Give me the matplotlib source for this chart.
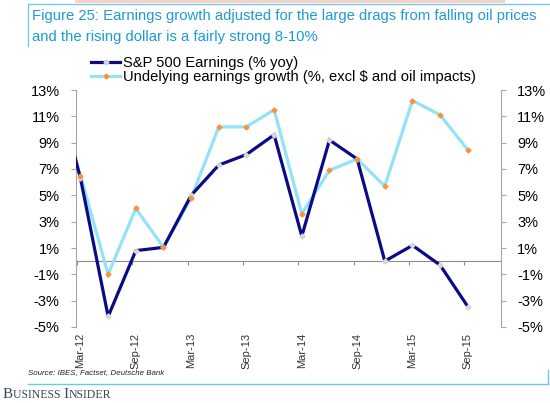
import numpy as np
import matplotlib
matplotlib.use("Agg")
import matplotlib.pyplot as plt
from matplotlib.lines import Line2D
from matplotlib.patches import Rectangle

plt.rcParams['font.family'] = ['Liberation Sans', 'DejaVu Sans']

# data (quarterly, % yoy); first value (Dec-11) falls just outside the plot
quarters = ["Dec-11", "Mar-12", "Jun-12", "Sep-12", "Dec-12", "Mar-13", "Jun-13", "Sep-13", "Dec-13",
            "Mar-14", "Jun-14", "Sep-14", "Dec-14", "Mar-15", "Jun-15", "Sep-15"]
sp500 = [14.4, 6.3, -4.2, 0.8, 1.05, 5.0, 7.3, 8.1, 9.6, 1.9, 9.2, 7.76, 0.0, 1.2, -0.3, -3.45]
underlying = [11.8, 6.5, -1.0, 4.0, 1.05, 4.8, 10.2, 10.2, 11.5, 3.6, 6.9, 7.76, 5.7, 12.2, 11.1, 8.45]
label_sp = "S&P 500 Earnings (% yoy)"
label_und = "Undelying earnings growth (%, excl $ and oil impacts)"
yticks = list(range(-5, 14, 2))

navy = "#0b0b86"
light = "#93e2f8"
orange = "#f7933a"
grey = "#a6a6a6"
blue_txt = "#1e9ad8"
frame_blue = "#6cc6ee"

x = np.arange(len(quarters)) - 1  # Mar-12 at 0

fig = plt.figure(figsize=(5.5, 4.03), dpi=100)
ax = fig.add_axes([75.5/550, 1-327/403, (501-75.5)/550, (327-90)/403])

ax.plot(x, underlying, color=light, lw=2.3, zorder=2, solid_joinstyle='miter')
ax.plot(x, sp500, color=navy, lw=2.3, zorder=3, marker='D', ms=2.6,
        mfc="#d6d6d6", mec="#d6d6d6", solid_joinstyle='miter')
ax.plot(x, underlying, ls='none', marker='D', ms=2.5, mfc=orange, mec=orange, zorder=4)

ax.set_xlim(-0.18, 15.2)
ax.set_ylim(-5, 13)

# zero line with category ticks
ax.axhline(0, color="#8c8c8c", lw=0.8, zorder=1)
tick_idx = [i for i in range(1, len(quarters)) if quarters[i][:3] in ("Mar", "Sep")]
ax.vlines(x[tick_idx] - 0.12, -0.3, 0, color="#8c8c8c", lw=0.8, zorder=1)

ax.set_xticks(x[tick_idx])
ax.set_xticklabels([quarters[i] for i in tick_idx], rotation=90, fontsize=8,
                   family=['Liberation Sans Narrow', 'Liberation Sans'], color="#333333")
ax.tick_params(axis='x', length=0, pad=4)

for s in ('top', 'bottom', 'right'):
    ax.spines[s].set_visible(False)
ax.spines['left'].set_color(grey)
ax.set_yticks(yticks)
ax.set_yticklabels([f"{v}%" for v in yticks], fontsize=10.5)
ax.tick_params(axis='y', direction='out', length=3.5, width=0.8, color=grey, pad=8)

ax2 = ax.twinx()
ax2.set_ylim(-5, 13)
for s in ('top', 'bottom', 'left'):
    ax2.spines[s].set_visible(False)
ax2.spines['right'].set_color(grey)
ax2.set_yticks(yticks)
ax2.set_yticklabels([f"{v}%" for v in yticks], fontsize=10.5)
ax2.tick_params(axis='y', direction='out', length=3.5, width=0.8, color=grey, pad=8)

# legend
handles = [Line2D([], [], color=navy, lw=2.3, marker='D', ms=2.6, mfc="#d6d6d6", mec="#d6d6d6"),
           Line2D([], [], color=light, lw=2.3, marker='D', ms=2.5, mfc=orange, mec=orange)]
fig.legend(handles, [label_sp, label_und], loc='upper left', bbox_to_anchor=(91/550, 1-56/403),
           frameon=False, fontsize=10.6, handlelength=2.0, handletextpad=0.15, borderpad=0,
           borderaxespad=0, labelspacing=0.0, numpoints=1)

# title block
fig.text(32/550, 1-16/403, "Figure 25: Earnings growth adjusted for the large drags from falling oil prices",
         color=blue_txt, fontsize=10.7, va='center', ha='left')
fig.text(32/550, 1-37/403, "and the rising dollar is a fairly strong 8-10%",
         color=blue_txt, fontsize=10.7, va='center', ha='left')
fig.add_artist(Rectangle((75/550, 1-2.5/403), 430/550, 2.5/403, transform=fig.transFigure,
                         color="#f4d3cb", lw=0))
fig.add_artist(Line2D([28/550, 1], [1-4/403, 1-4/403], transform=fig.transFigure, color=frame_blue, lw=0.9))
fig.add_artist(Line2D([28/550, 28/550], [1-4/403, 1-46/403], transform=fig.transFigure, color=frame_blue, lw=0.9))

# footer
fig.text(28/550, 1-373/403, "Source: IBES, Factset, Deutsche Bank", fontsize=5.7, style='italic',
         va='center', ha='left', color="#222222")
fig.add_artist(Line2D([28/550, 548/550], [1-384/403, 1-384/403], transform=fig.transFigure,
                      color=frame_blue, lw=1.0))
fig.add_artist(Line2D([548/550, 548/550], [1-384/403, 1-370/403], transform=fig.transFigure,
                      color=frame_blue, lw=1.0))

# "Business Insider" in small caps, built piece by piece
renderer = fig.canvas.get_renderer()
xpos = 3
for part, size in [("B", 11.0), ("USINESS ", 8.5), ("I", 11.0), ("NSIDER", 8.5)]:
    t = fig.text(xpos/550, 1-398.5/403, part, fontsize=size, family=['Liberation Serif', 'DejaVu Serif'],
                 color="#3b4756", va='baseline', ha='left')
    xpos += t.get_window_extent(renderer).width

fig.savefig("out.png", dpi=100)
